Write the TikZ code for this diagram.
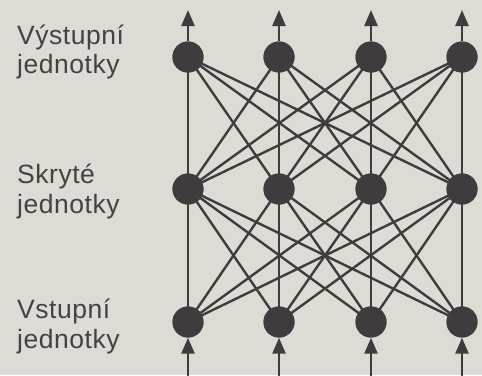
\documentclass[tikz,border=0pt]{standalone}
\usepackage{fontspec}
\setmainfont{Liberation Sans}[LetterSpace=2]
\usetikzlibrary{arrows.meta}
\definecolor{bg}{HTML}{DEDAD4}
\definecolor{ink}{HTML}{403C3E}
\definecolor{txt}{HTML}{454144}
\begin{document}
\begin{tikzpicture}[x=1pt,y=-1pt,
  unit/.style={circle,fill=ink,draw=none,minimum size=31pt,inner sep=0pt},
  link/.style={draw=ink,line width=2.4pt},
  axon/.style={draw=ink,line width=2.6pt,-{Triangle[length=16pt,width=13pt]}},
  lab/.style={anchor=base west,inner sep=0pt,text=txt,font=\fontsize{26.5}{29}\selectfont}]
\fill[bg] (0,0) rectangle (482,375);
\useasboundingbox (0,0) rectangle (482,375);
\foreach \n/\x in {1/188,2/279,3/371,4/462}{
  \node[unit] (o\n) at (\x,57) {};
  \node[unit] (h\n) at (\x,189) {};
  \node[unit] (i\n) at (\x,322) {};
  \coordinate (t\n) at (\x,10);
  \coordinate (b\n) at (\x,376);
}
\foreach \a in {1,...,4}{
  \foreach \b in {1,...,4}{
    \draw[link] (i\a.center) -- (h\b.center);
    \draw[link] (h\a.center) -- (o\b.center);
  }
}
\foreach \n in {1,...,4}{
  \node[unit] at (o\n) {};
  \node[unit] at (h\n) {};
  \node[unit] at (i\n) {};
  \draw[axon] (o\n.north) -- (t\n);
  \draw[axon] (b\n) -- (i\n.south);
}
\node[lab] (l1) at (17,44) {Výstupní};
\node[lab] (l2) at (17,73) {jednotky};
\node[lab] (l3) at (17,183) {Skryté};
\node[lab] (l4) at (17,213) {jednotky};
\node[lab] (l5) at (17,318) {Vstupní};
\node[lab] (l6) at (17,348) {jednotky};
\end{tikzpicture}
\end{document}
